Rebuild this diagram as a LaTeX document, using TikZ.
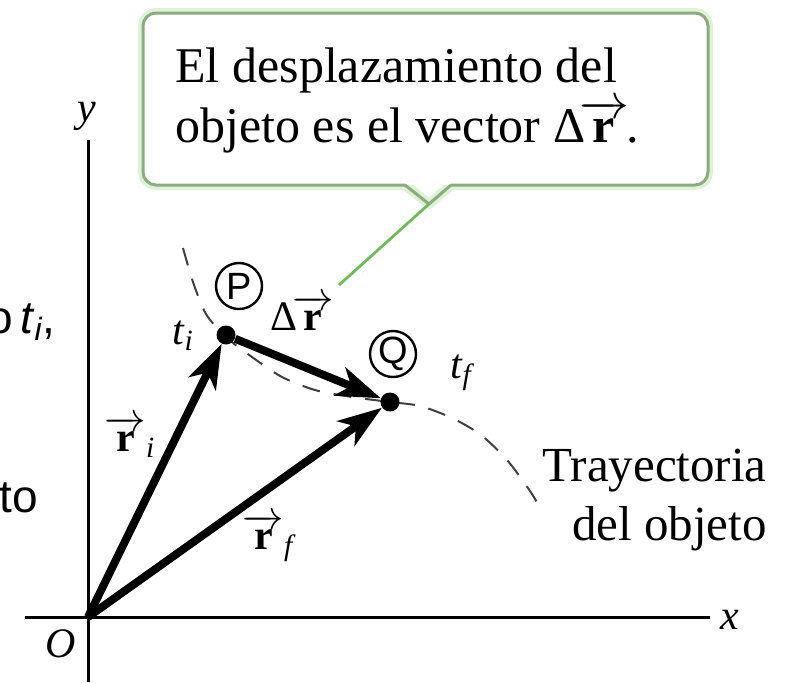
\documentclass[tikz,border=0pt]{standalone}
\usepackage{amsmath}
\usepackage{fontspec}
\setmainfont{Liberation Serif}
\newfontfamily\arialfont{Liberation Sans}
\usetikzlibrary{arrows.meta}
\definecolor{boxgreen}{RGB}{140,172,128}
\definecolor{glowgreen}{RGB}{222,242,216}
\definecolor{leadgreen}{RGB}{112,186,92}
\newcommand\myvec[1]{$\overrightarrow{\textbf{#1}}$}
\newcommand\mydelta{Δ\kern-0.12em}
\begin{document}
\begin{tikzpicture}[x=0.5pt,y=-0.5pt,
  vecline/.style={line width=4pt,-{Stealth[length=22pt,width=15pt,inset=6pt]}},
  axisline/.style={line width=1.5pt},
  traj/.style={line width=1pt,black!75,dash pattern=on 9pt off 7pt},
  dotnode/.style={circle,fill=black,inner sep=0pt,minimum size=9.5pt},
  circlab/.style={circle,draw,line width=1.2pt,minimum size=23pt,inner sep=0pt,font=\arialfont\fontsize{19pt}{19pt}\selectfont},
  lbl/.style={inner sep=0pt,font=\fontsize{21pt}{25pt}\selectfont},
  bigtext/.style={inner sep=0pt,font=\fontsize{25pt}{30pt}\selectfont},
  sidetext/.style={inner sep=0pt,font=\arialfont\fontsize{23pt}{27pt}\selectfont},
  boxglow/.style={line width=5pt,glowgreen,line join=round},
  boxline/.style={line width=1.5pt,boxgreen,line join=round},
  leader/.style={line width=1.4pt,leadgreen}]
\useasboundingbox (0,0) rectangle (785,682);
\clip (0,0) rectangle (785,682);

% side text fragments
\node[sidetext,anchor=base east] (frag1) at (56,333) {o\,\textit{t}$_{\textit{i}}$,};
\node[sidetext,anchor=base east] (frag2) at (38,512) {to};

% callout box
\foreach \s in {boxglow,boxline}{
  \draw[\s,rounded corners=6.5pt,fill=white] (405,185) -- (143,185) -- (143,13) -- (708,13) -- (708,185) -- (451,185);
  \draw[\s] (405,185) -- (429,204) -- (451,185);
}
\coordinate (tailtip) at (429,204);
\coordinate (leaderend) at (339,285);
\draw[leader] (tailtip) -- (leaderend);
\node[bigtext,anchor=base west] (cl1) at (175,82) {El desplazamiento del};
\node[bigtext,anchor=base west] (cl2) at (175,142) {objeto es el vector \mydelta\myvec{r}\kern-0.05em.};

% axes
\coordinate (O) at (88,617);
\coordinate (ytop) at (88,140);
\coordinate (ybot) at (88,682);
\coordinate (xl) at (25,617);
\coordinate (xr) at (710,617);
\draw[axisline] (ytop) -- (ybot);
\draw[axisline] (xl) -- (xr);
\node[lbl] (ylab) at (87,116) {\textit{y}};
\node[lbl] (xlab) at (730,620) {\textit{x}};
\node[lbl] (olab) at (61,644) {\textit{O}};

% trajectory
\draw[traj] plot[smooth] coordinates {(183,248) (193,282) (206,314) (226,337) (252,357) (282,377) (315,390) (352,397) (390,402) (420,406) (452,418) (481,435) (507,460) (528,488) (538,504)};

% points
\node[dotnode] (P) at (226,335) {};
\node[dotnode] (Q) at (390,402) {};
\node[circlab] (Pc) at (239,286) {P};
\node[circlab] (Qc) at (393,354) {Q};

% vectors
\draw[vecline] (O) -- (P);
\draw[vecline] (O) -- (Q);
\draw[vecline] (P) -- (Q);

% labels
\node[lbl] (ti) at (183,336) {\textit{t}$_{\textit{i}}$};
\node[lbl] (tf) at (461,373) {\textit{t}$_{\textit{f}}$};
\node[lbl] (dr) at (302,313) {\mydelta\myvec{r}};
\node[lbl] (ri) at (130,437) {\myvec{r}$_{\textit{i}}$};
\node[lbl] (rf) at (268,538) {\myvec{r}$_{\textit{f}}$};
\node[bigtext,font=\fontsize{24.5pt}{29pt}\selectfont,anchor=base east] (tr1) at (767,481) {Trayectoria};
\node[bigtext,font=\fontsize{24.5pt}{29pt}\selectfont,anchor=base east] (tr2) at (767,540) {del objeto};
\end{tikzpicture}
\end{document}
